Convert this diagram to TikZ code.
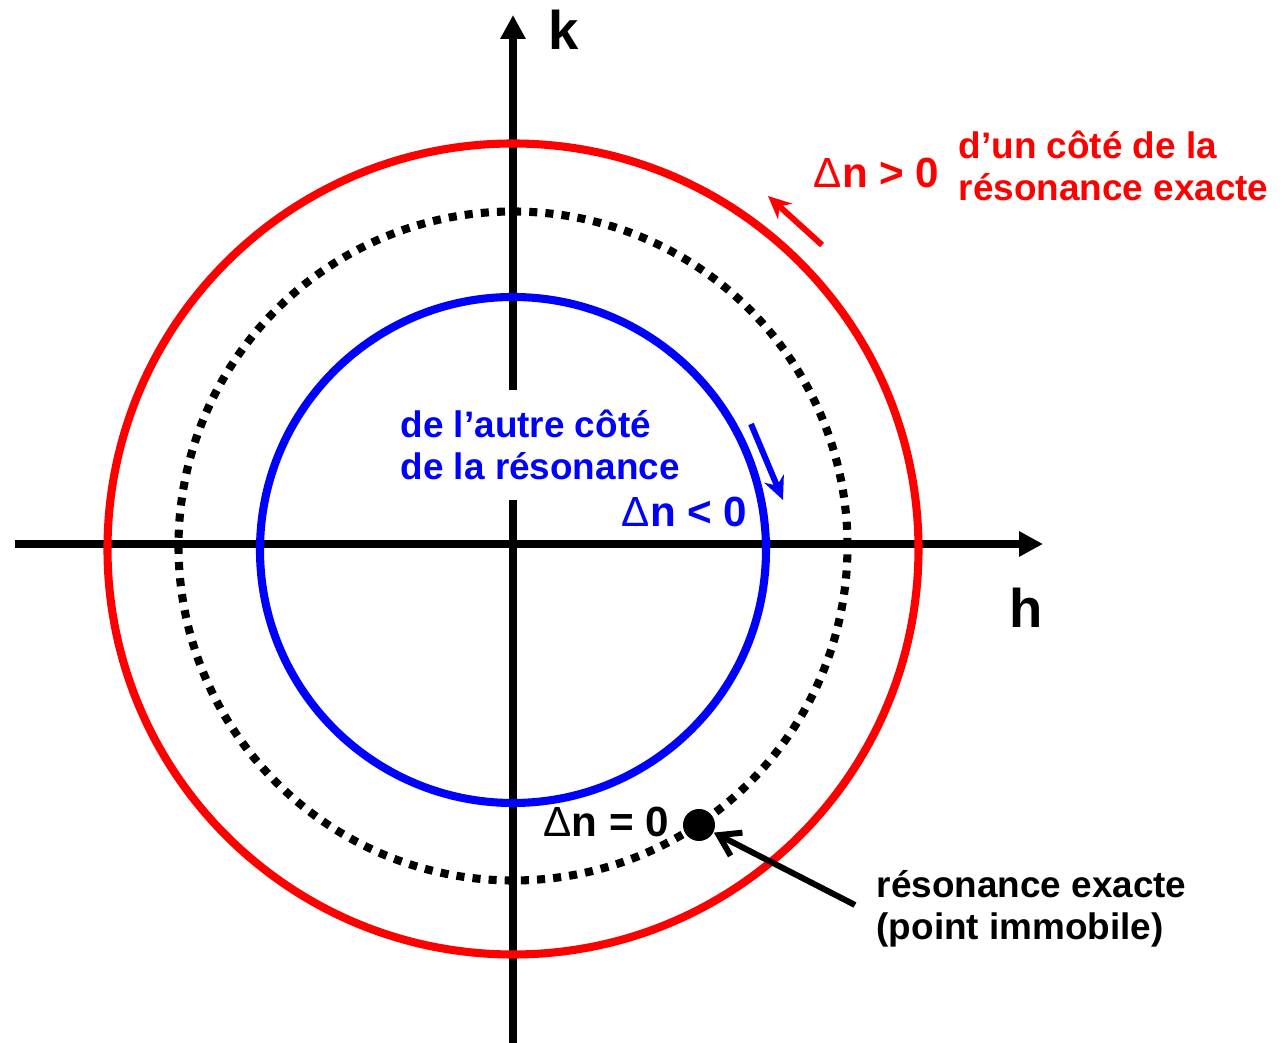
\documentclass[tikz,border=0pt]{standalone}
\usepackage{fontspec}
\setmainfont{Liberation Sans}
\usetikzlibrary{arrows.meta}
\tikzset{
	axis/.style={line width=2.1pt, -{Triangle[length=0.24cm, width=0.24cm]}},
	orbit/.style={line width=2.3pt},
	lbl/.style={font=\bfseries\fontsize{10.5}{12}\selectfont, inner sep=0pt, align=left},
	dlbl/.style={font=\bfseries\fontsize{12}{14}\selectfont, inner sep=0pt},
	axlbl/.style={font=\bfseries\fontsize{15.5}{18}\selectfont, inner sep=0pt},
	sens/.style={line width=1.7pt, -{Stealth[length=0.23cm, width=0.21cm]}},
}
\newcommand{\dn}{{\mdseries Δ}n}

\begin{document}
\begin{tikzpicture}
		\useasboundingbox (-5.13, -4.99) rectangle (7.72, 5.44);
		% axes
		\draw[axis] (-4.98, 0) -- (5.30, 0);
		\draw[axis] (0, -4.99) -- (0, 5.29);
		\node[axlbl] (k) at (0.51, 5.14) {k};
		\node[axlbl] (h) at (5.13, -0.64) {h};
		% circles
		\draw[orbit, red] (0, -0.05) circle (4.055);
		\draw[orbit, blue] (0, -0.06) circle (2.53);
		\draw[line width=2.3pt, dash pattern=on 2.3pt off 2.3pt] (0, -0.02) circle (3.345);
		% labels
		\node[lbl, red, anchor=west] (cote1) at (4.45, 3.78) {d’un côté de la\\résonance exacte};
		\node[dlbl, red, anchor=base east] (dpos) at (4.27, 3.56) {\dn{} > 0};
		\node[lbl, blue, fill=white, inner ysep=0.2cm, anchor=west] (cote2) at (-1.13, 0.99) {de l’autre côté\\de la résonance};
		\node[dlbl, blue, anchor=base east] (dneg) at (2.35, 0.17) {\dn{} < 0};
		\node[dlbl, anchor=base west] (dzero) at (0.30, -2.93) {\dn{} = 0};
		\node[lbl, anchor=west] (immo) at (3.63, -3.65) {résonance exacte\\(point immobile)};
		% fixed point
		\node[circle, fill=black, inner sep=0pt, minimum size=0.32cm] (fixe) at (1.86, -2.81) {};
		\coordinate (depart) at ([xshift=-0.21cm, yshift=0.04cm]immo.west);
		\draw[line width=1.7pt, -{Straight Barb[length=0.2cm, width=0.26cm]}] (depart) -- (fixe);
		% directions
		\coordinate (r0) at (3.09, 2.99);
		\coordinate (r1) at (2.55, 3.48);
		\draw[sens, red] (r0) -- (r1);
		\coordinate (b0) at (2.38, 1.20);
		\coordinate (b1) at (2.70, 0.44);
		\draw[sens, blue] (b0) -- (b1);
	\end{tikzpicture}
\end{document}
